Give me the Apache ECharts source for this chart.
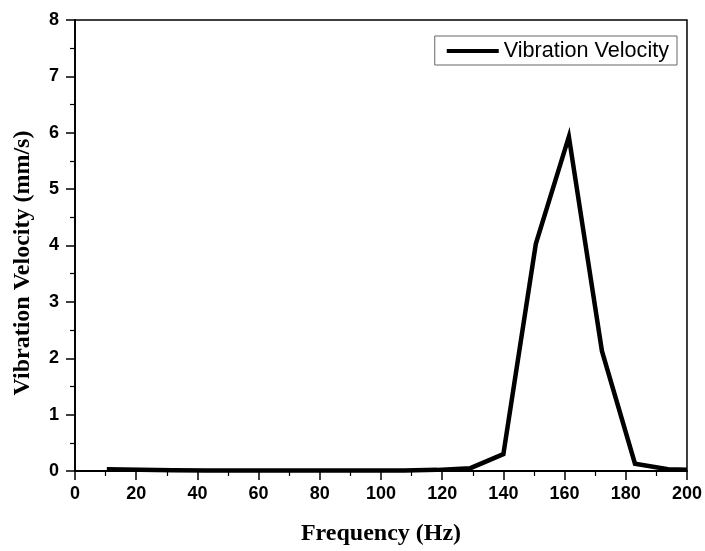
<!DOCTYPE html>
<html><head><meta charset="utf-8">
<script src="https://cdn.jsdelivr.net/npm/echarts@6/dist/echarts.min.js"></script>
<style>html,body{margin:0;padding:0;background:#fff}#c{width:705px;height:551px}</style>
</head><body><div id="c"></div>
<script>
const frequency = [10.4, 21.2, 32, 42.8, 53.6, 64.4, 75.2, 86, 96.8, 107.6, 118.4, 129.2, 140, 150.6, 161.4, 172.2, 183, 193.8, 200];
const velocity  = [0.03, 0.02, 0.015, 0.01, 0.01, 0.01, 0.01, 0.01, 0.01, 0.01, 0.02, 0.05, 0.3, 4.03, 5.93, 2.13, 0.13, 0.03, 0.02];
const seriesName = 'Vibration Velocity';
const xTitle = 'Frequency (Hz)';
const yTitle = 'Vibration Velocity (mm/s)';

const chart = echarts.init(document.getElementById('c'));
const tickFont = { fontFamily: 'Liberation Sans, Arial', fontWeight: 'bold', fontSize: 18, color: '#000' };
chart.setOption({
  animation: false,
  backgroundColor: '#fff',
  grid: { left: 75, right: 15, top: 20, bottom: 78, show: true, borderColor: '#000', borderWidth: 1.5, backgroundColor: 'transparent' },
  legend: {
    data: [seriesName], right: 28, top: 36, icon: 'rect', itemWidth: 52, itemHeight: 4,
    borderColor: '#666', borderWidth: 1, padding: [4, 8, 3, 12], itemGap: 0,
    textStyle: { fontFamily: 'Liberation Sans, Arial', fontSize: 21.6, color: '#000' }
  },
  graphic: [{
    type: 'text', x: 23, y: 263, rotation: Math.PI / 2,
    style: { text: yTitle, textAlign: 'center', textVerticalAlign: 'middle',
      fontFamily: 'Liberation Serif, Times New Roman', fontWeight: 'bold', fontSize: 24, fill: '#000' }
  }],
  xAxis: {
    type: 'value', min: 0, max: 200, interval: 20,
    name: xTitle, nameLocation: 'middle', nameGap: 51,
    nameTextStyle: { fontFamily: 'Liberation Serif, Times New Roman', fontWeight: 'bold', fontSize: 24, color: '#000' },
    axisLine: { show: true, lineStyle: { color: '#000', width: 1.8 } },
    axisTick: { show: true, length: 9, lineStyle: { color: '#000', width: 1.5 } },
    minorTick: { show: true, splitNumber: 2, length: 5, lineStyle: { color: '#000', width: 1.2 } },
    axisLabel: Object.assign({ margin: 14 }, tickFont),
    splitLine: { show: false }
  },
  yAxis: {
    type: 'value', min: 0, max: 8, interval: 1,
    axisLine: { show: true, lineStyle: { color: '#000', width: 1.8 } },
    axisTick: { show: true, length: 9, lineStyle: { color: '#000', width: 1.5 } },
    minorTick: { show: true, splitNumber: 2, length: 5, lineStyle: { color: '#000', width: 1.2 } },
    axisLabel: Object.assign({ margin: 16 }, tickFont),
    splitLine: { show: false }
  },
  series: [{
    name: seriesName, type: 'line', symbol: 'none',
    data: frequency.map((f, i) => [f, velocity[i]]),
    lineStyle: { color: '#000', width: 4.5, join: 'miter' },
    itemStyle: { color: '#000' }
  }]
});
</script></body></html>
